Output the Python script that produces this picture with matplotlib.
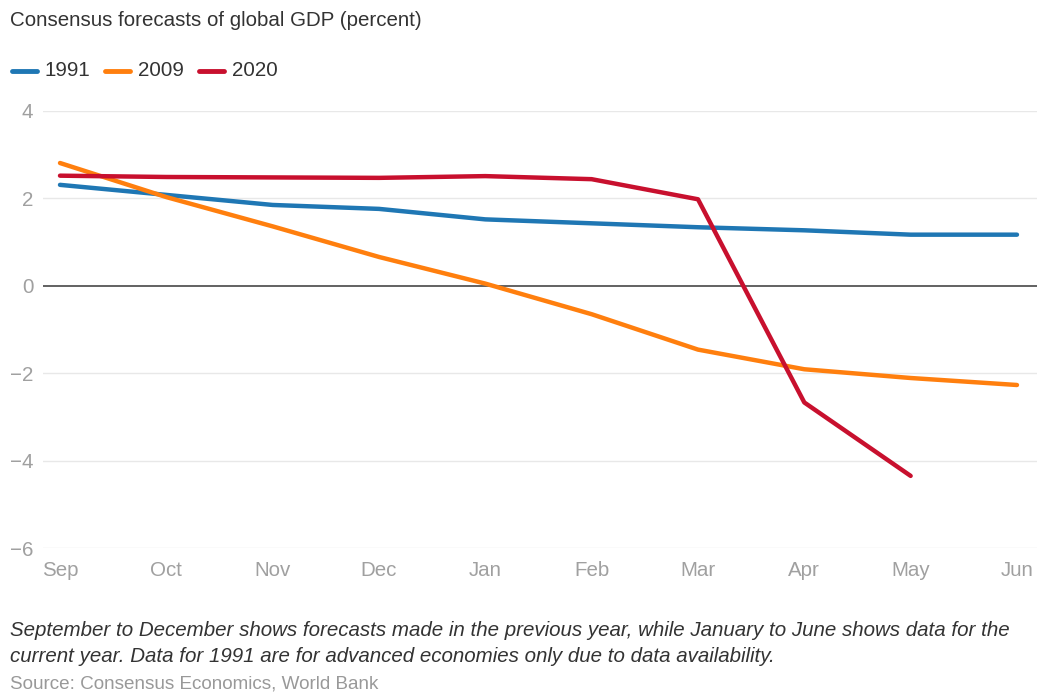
import matplotlib
matplotlib.use("Agg")
import matplotlib.pyplot as plt
from matplotlib.lines import Line2D

plt.rcParams['font.family'] = ['Liberation Sans', 'DejaVu Sans']

months = ["Sep", "Oct", "Nov", "Dec", "Jan", "Feb", "Mar", "Apr", "May", "Jun"]
s1991 = [2.31, 2.08, 1.85, 1.76, 1.52, 1.43, 1.34, 1.27, 1.17, 1.17]
s2009 = [2.81, 2.03, 1.36, 0.66, 0.05, -0.65, -1.46, -1.91, -2.11, -2.27]
s2020 = [2.52, 2.49, 2.48, 2.47, 2.51, 2.44, 1.98, -2.67, -4.35]
yticks = [4, 2, 0, -2, -4, -6]

colors = {"1991": "#1f77b4", "2009": "#ff7f0e", "2020": "#c8102e"}

W, H = 1037, 696
fig = plt.figure(figsize=(W / 100, H / 100), dpi=100)
ax = fig.add_axes([43 / W, 1 - 548 / H, 1 - 43 / W, (548 - 111) / H])

x = list(range(len(months)))
for name, vals in (("1991", s1991), ("2009", s2009), ("2020", s2020)):
    ax.plot(x[:len(vals)], vals, color=colors[name], lw=3.2,
            solid_capstyle='round', solid_joinstyle='round', zorder=3, clip_on=False)

ax.set_ylim(-6, 4)
ax.set_xlim(-17 / 106.33, (1037 - 60) / 106.33)
ax.set_yticks(yticks)
ax.set_yticklabels([("\u2212%d" % -v if v < 0 else str(v)) for v in yticks])
ax.set_xticks(x)
ax.set_xticklabels(months)
for yv in yticks:
    if yv == 0:
        ax.axhline(0, color="#555555", lw=1.3, zorder=2)
    else:
        ax.axhline(yv, color="#e8e8e8", lw=1.0, zorder=1)
for s in ax.spines.values():
    s.set_visible(False)
ax.tick_params(axis='both', length=0, colors="#a0a0a0", labelsize=14.8)
ax.tick_params(axis='y', pad=7)
ax.tick_params(axis='x', pad=9)

fig.text(10 / W, 1 - 20 / H, "Consensus forecasts of global GDP (percent)",
         fontsize=14.8, color="#333333", va='center', ha='left')

# legend
items = [("1991", 45, 12), ("2009", 138, 105), ("2020", 232, 199)]
for name, tx, st in items:
    fig.add_artist(Line2D([st / W, (st + 25) / W], [1 - 71 / H, 1 - 71 / H],
                          color=colors[name], lw=3.5, solid_capstyle='round',
                          transform=fig.transFigure))
    fig.text(tx / W, 1 - 71 / H, name, fontsize=14.8, color="#333333",
             va='center', ha='left')

fig.text(10 / W, 1 - 631 / H,
         "September to December shows forecasts made in the previous year, while January to June shows data for the",
         fontsize=14.8, style='italic', color="#333333", va='center', ha='left')
fig.text(10 / W, 1 - 656 / H,
         "current year. Data for 1991 are for advanced economies only due to data availability.",
         fontsize=14.8, style='italic', color="#333333", va='center', ha='left')
fig.text(10 / W, 1 - 684 / H, "Source: Consensus Economics, World Bank",
         fontsize=13.6, color="#999999", va='center', ha='left')

fig.savefig("out.png", dpi=100)
